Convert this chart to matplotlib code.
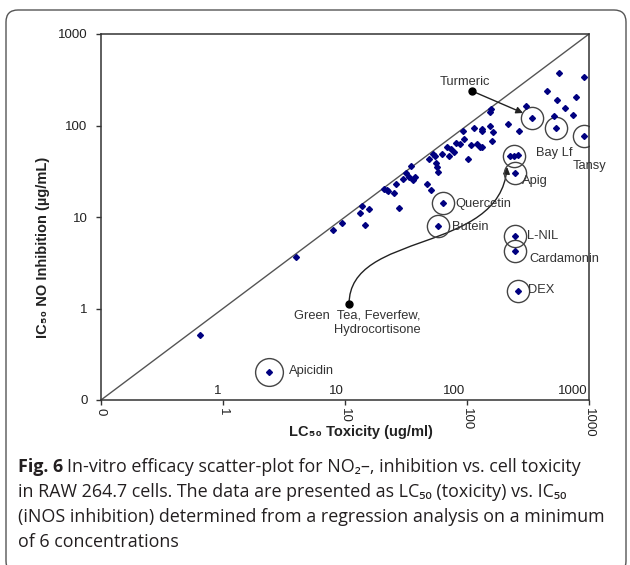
import matplotlib
matplotlib.use("Agg")
import matplotlib.pyplot as plt
from matplotlib.path import Path
from matplotlib.patches import FancyArrowPatch, FancyBboxPatch
from matplotlib.transforms import IdentityTransform

# LC50 toxicity (ug/ml) vs IC50 NO inhibition (ug/ml)
lc50 = [0.65, 3.98, 7.9, 9.4, 13.3, 13.8, 14.6, 15.7, 20.9, 22.0, 22.7, 25.3,
        26.3, 27.9, 30.1, 31.8, 33.5, 35.0, 36.4, 37.8, 47.3, 48.4, 51.0, 53.0,
        55.0, 56.0, 57.0, 58.0, 62.7, 69.0, 71.7, 73.8, 78.5, 81.5, 87.9, 94.8,
        93.5, 102, 108.7, 114.6, 121.6, 127, 132, 132, 132, 155, 155, 158, 162,
        160, 218, 226, 244, 263, 269, 306, 453, 519, 551, 572, 635, 745, 785, 914]
ic50 = [0.51, 3.66, 7.2, 8.6, 11.1, 13.2, 8.1, 12.1, 20.4, 19.9, 19.0, 18.3,
        22.7, 12.7, 26.2, 30.2, 27.3, 35.7, 25.1, 27.3, 23.1, 43.3, 19.9, 48.3,
        47.0, 38.8, 35.1, 31.0, 49.0, 58.1, 45.9, 56.0, 51.2, 64.2, 62.3, 71.6,
        86.1, 43.3, 61, 93.5, 63, 58, 92, 58, 86, 100, 139.7, 152, 85,
        67, 104, 46, 47, 48, 86, 165, 241, 126, 192, 372, 155, 131, 204, 343]

# circled / named compounds (Apicidin first)
named = ["Apicidin", "Quercetin", "Butein", "Apig", "L-NIL", "Cardamonin",
         "DEX", "Turmeric", "Bay Lf", "Tansy"]
named_lc50 = [2.4, 64, 58, 249, 249, 249, 263, 342, 538, 914]
named_ic50 = [0.204, 14.2, 7.9, 30.2, 6.2, 4.3, 1.56, 120, 93.5, 75.9]

# text positions for the labels (left edge, middle)
lab_names = ["Apicidin", "Quercetin", "Butein", "Apig", "L-NIL", "Cardamonin",
             "DEX", "Bay Lf", "Tansy"]
lab_x = [3.5, 80, 75.7, 283, 310, 324, 318, 369, 728]
lab_y = [0.209, 13.7, 7.8, 25, 6.15, 3.45, 1.58, 50, 36]

decades = [0.1, 1, 10, 100, 1000]
dec_labels = ["0", "1", "10", "100", "1000"]

font = ["Liberation Sans", "DejaVu Sans"]
cap_font = ["Open Sans", "DejaVu Sans"]
plt.rcParams["font.family"] = font

W, H = 630, 565
fig = plt.figure(figsize=(W / 100, H / 100), dpi=100)
ax = fig.add_axes([101 / W, 1 - 400 / H, 488 / W, 366 / H])
ax.set_xscale("log")
ax.set_yscale("log")
ax.set_xlim(0.1, 1000)
ax.set_ylim(0.1, 1000)

ax.plot([0.1, 1000], [0.1, 1000], color="#555555", lw=1, zorder=1)
ax.plot(lc50 + named_lc50, ic50 + named_ic50, "D", ms=3.0, color="#000080",
        zorder=3, ls="none")

# circles round the named compounds
for x, y in zip(named_lc50[1:], named_ic50[1:]):
    ax.plot(x, y, "o", ms=16, mfc="none", mec="#444444", mew=1, zorder=2)
ax.plot(244, 47, "o", ms=16, mfc="none", mec="#444444", mew=1, zorder=2)
ax.plot(named_lc50[0], named_ic50[0], "o", ms=20, mfc="none", mec="#444444",
        mew=1, zorder=2)

for s, x, y in zip(lab_names, lab_x, lab_y):
    ax.text(x, y, s, fontsize=9.3, color="#333333", ha="left", va="center",
            zorder=4)

# Turmeric callout
ax.plot(110, 238, "o", ms=5, color="black", zorder=4)
ax.text(96, 298, "Turmeric", fontsize=9.3, color="#333333", ha="center",
        va="center")
ax.annotate("", xy=(288, 137), xytext=(110, 238),
            arrowprops=dict(arrowstyle="-|>", color="#222222", lw=1,
                            mutation_scale=10, shrinkA=0, shrinkB=0))

# Green tea callout with curved arrow
ax.plot(10.8, 1.12, "o", ms=5, color="black", zorder=4)
ax.text(41.3, 0.70, "Green  Tea, Feverfew,\nHydrocortisone", fontsize=9.3,
        color="#333333", ha="right", va="center", multialignment="right",
        linespacing=1.25)
curve = Path([(10.8, 1.12), (10.8, 7.2), (186, 3.85), (213, 35.2)],
             [Path.MOVETO, Path.CURVE4, Path.CURVE4, Path.CURVE4])
ax.add_patch(FancyArrowPatch(path=curve, arrowstyle="-|>", mutation_scale=10,
                             color="#222222", lw=1, transform=ax.transData))

ax.minorticks_off()
ax.set_xticks(decades)
ax.set_xticklabels(dec_labels, rotation=270)
ax.set_yticks(decades)
ax.set_yticklabels(dec_labels)
ax.tick_params(direction="out", length=3.6, width=1, color="#333333",
               labelsize=9.5, labelcolor="#222222")
ax.tick_params(axis="x", pad=2)
ax.tick_params(axis="y", pad=6)
for sp in ax.spines.values():
    sp.set_color("#333333")
    sp.set_linewidth(1.1)

# the second row of decade labels inside the plot
for v, s in zip(decades[1:], dec_labels[1:]):
    ax.annotate(s, (v, 0.1), xytext=(-1, 2), textcoords="offset points",
                ha="right", va="bottom", fontsize=9.5, color="#222222")

ax.set_xlabel("LC₅₀ Toxicity (ug/ml)", fontsize=10.5, fontweight="bold",
              color="#222222")
ax.xaxis.set_label_coords(0.533, -0.068)
ax.set_ylabel("IC₅₀ NO Inhibition (µg/mL)", fontsize=10.5, fontweight="bold",
              color="#222222")
ax.yaxis.set_label_coords(-0.105, 0.418)

# frame round the figure
frame = FancyBboxPatch((6, -8), 620, H - 10 + 8,
                       boxstyle="round,pad=0,rounding_size=12",
                       fc="none", ec="#555555", lw=1)
frame.set_transform(IdentityTransform())
fig.add_artist(frame)

# caption
cap_lines = [
    "In-vitro efficacy scatter-plot for NO₂–, inhibition vs. cell toxicity",
    "in RAW 264.7 cells. The data are presented as LC₅₀ (toxicity) vs. IC₅₀",
    "(iNOS inhibition) determined from a regression analysis on a minimum",
    "of 6 concentrations",
]
r = fig.canvas.get_renderer()
fs = 12.9
t = fig.text(18 / W, 1 - 467 / H, "Fig. 6", fontsize=fs, fontweight="bold",
             family=cap_font, va="center", color="#231f20")
bb = t.get_window_extent(r)
fig.text((bb.x1 + 4) / W, 1 - 467 / H, cap_lines[0], fontsize=fs,
         family=cap_font, va="center", color="#231f20")
for i, line in enumerate(cap_lines[1:]):
    fig.text(18 / W, 1 - (492 + 25 * i) / H, line, fontsize=fs,
             family=cap_font, va="center", color="#231f20")

fig.savefig("out.png", dpi=100)
